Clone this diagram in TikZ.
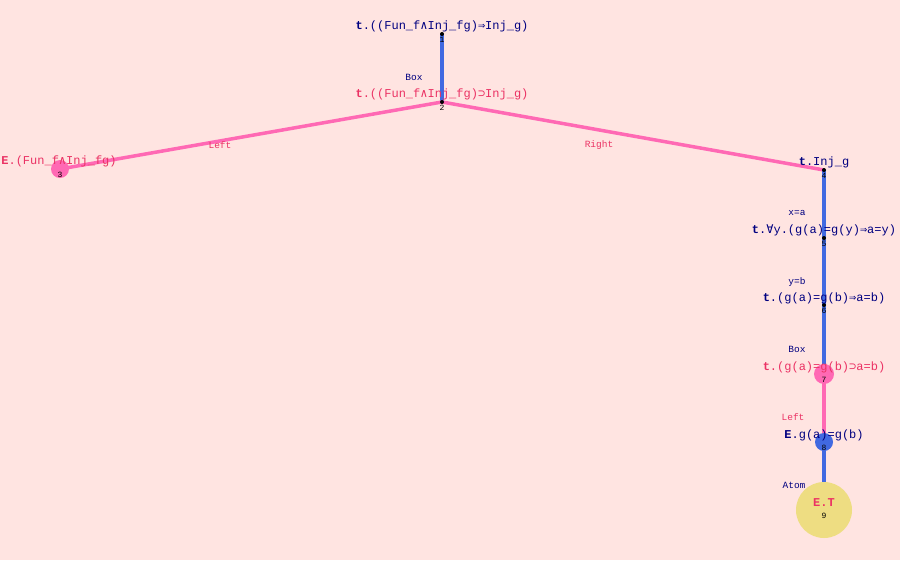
\documentclass[tikz,border=0pt]{standalone}
\usepackage{fontspec}
\setmainfont{Liberation Mono}
\newfontfamily\symf{DejaVu Sans Mono}
\usetikzlibrary{backgrounds}
\definecolor{bgpink}{RGB}{255,228,225}
\definecolor{edgeblue}{RGB}{65,105,225}
\definecolor{edgepink}{RGB}{255,105,180}
\definecolor{txtred}{RGB}{235,50,100}
\definecolor{txtnavy}{RGB}{0,0,128}
\definecolor{atomyellow}{RGB}{238,221,130}
\newcommand{\lland}{{\symf ∧}}
\newcommand{\limp}{{\symf ⇒}}
\newcommand{\lsup}{{\symf ⊃}}
\newcommand{\lall}{{\symf ∀}}
\tikzset{
  dot/.style={circle,fill=black,inner sep=0pt,minimum size=4pt},
  ball/.style={circle,inner sep=0pt,minimum size=#1},
  formula/.style={font=\fontsize{12}{12}\selectfont,inner sep=0pt},
  rulelab/.style={font=\fontsize{9.5}{9.5}\selectfont,inner sep=0pt},
  numlab/.style={font=\fontsize{8}{8}\selectfont,inner sep=0pt},
  blueedge/.style={edgeblue,line width=3.5pt},
  pinkedge/.style={edgepink,line width=3.5pt},
}
\begin{document}
\begin{tikzpicture}[x=1pt,y=-1pt]
%%%% canvas
\useasboundingbox (0,0) rectangle (900,560);
%%%%%% tree points
\node[dot] (n1) at (442,34) {};
\node[dot] (n2) at (442,102) {};
\node[ball=18pt,fill=edgepink] (n3) at (60,169) {};
\node[dot] (n4) at (824,170) {};
\node[dot] (n5) at (824,238) {};
\node[dot] (n6) at (824,305) {};
\node[ball=20pt,fill=edgepink] (n7) at (824,374) {};
\node[ball=18pt,fill=edgeblue] (n8) at (824,442) {};
\node[ball=56pt,fill=atomyellow] (n9) at (824,510) {};
%%%%%% edges
\begin{scope}[on background layer]
\fill[bgpink] (0,0) rectangle (900,560);
\draw[blueedge] (n1.center) -- (n2.center);
\draw[pinkedge] (n2.center) -- (n3.center);
\draw[pinkedge] (n2.center) -- (n4.center);
\draw[blueedge] (n4.center) -- (n5.center);
\draw[blueedge] (n5.center) -- (n6.center);
\draw[blueedge] (n6.center) -- (n7.center);
\draw[pinkedge] (n7.center) -- (n8.center);
\draw[blueedge] (n8.center) -- (n9.center);
\end{scope}
%%%%%% numbers
\foreach \i in {1,...,9} {
    \node[numlab] at ([yshift=-6pt]n\i.center) {\i};
}
%%%%%% formulas
\node[formula,txtnavy] (f1) at (442,26) {\textbf{t}.((Fun\_f\lland Inj\_fg)\limp Inj\_g)};
\node[formula,txtred] (f2) at (442,94) {\textbf{t}.((Fun\_f\lland Inj\_fg)\lsup Inj\_g)};
\node[formula,txtred] (f3) at (59,161) {\textbf{E}.(Fun\_f\lland Inj\_fg)};
\node[formula,txtnavy] (f4) at (824,162) {\textbf{t}.Inj\_g};
\node[formula,txtnavy] (f5) at (824,230) {\textbf{t}.\lall y.(g(a)=g(y)\limp a=y)};
\node[formula,txtnavy] (f6) at (824,298) {\textbf{t}.(g(a)=g(b)\limp a=b)};
\node[formula,txtred] (f7) at (824,367) {\textbf{t}.(g(a)=g(b)\lsup a=b)};
\node[formula,txtnavy] (f8) at (824,435) {\textbf{E}.g(a)=g(b)};
\node[formula,txtred] (f9) at (824,503) {\textbf{E.T}};
%%%%%% rule names
\node[rulelab,txtnavy] (r2) at (414,77) {Box};
\node[rulelab,txtred] (r3) at (220,145) {Left};
\node[rulelab,txtred] (r4) at (599,145) {Right};
\node[rulelab,txtnavy] (r5) at (797,213) {x=a};
\node[rulelab,txtnavy] (r6) at (797,282) {y=b};
\node[rulelab,txtnavy] (r7) at (797,349) {Box};
\node[rulelab,txtred] (r8) at (793,417) {Left};
\node[rulelab,txtnavy] (r9) at (794,485) {Atom};
\end{tikzpicture}
\end{document}
